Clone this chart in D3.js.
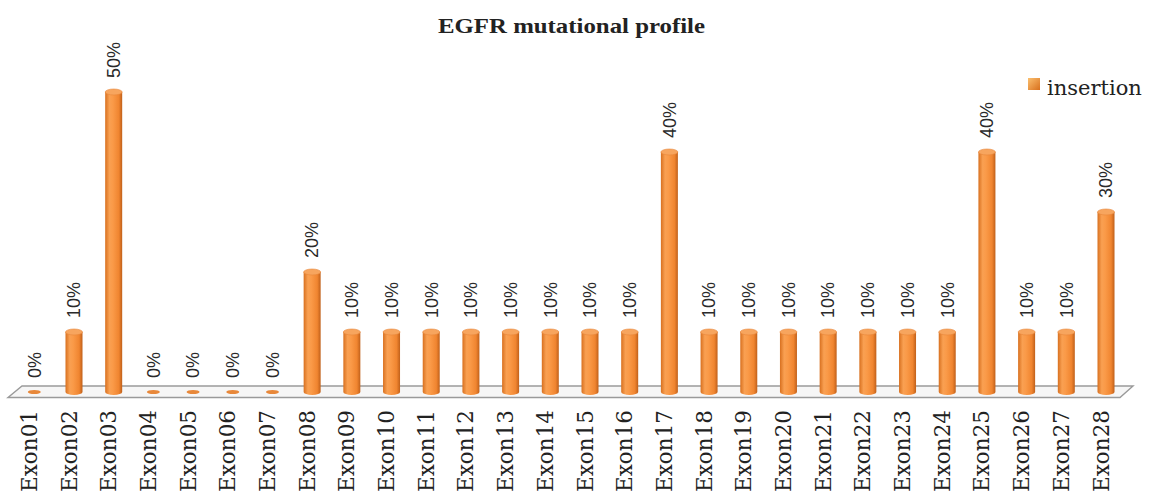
<!DOCTYPE html>
<html><head><meta charset="utf-8">
<script src="https://cdn.jsdelivr.net/npm/d3@7"></script>
<style>body{margin:0;background:#fff;}svg{display:block;}</style>
</head><body>
<svg id="chart" width="1151" height="500"></svg>
<script>
const categories = ["Exon01","Exon02","Exon03","Exon04","Exon05","Exon06","Exon07","Exon08","Exon09","Exon10","Exon11","Exon12","Exon13","Exon14","Exon15","Exon16","Exon17","Exon18","Exon19","Exon20","Exon21","Exon22","Exon23","Exon24","Exon25","Exon26","Exon27","Exon28"];
const insertion = [0,10,50,0,0,0,0,20,10,10,10,10,10,10,10,10,40,10,10,10,10,10,10,10,40,10,10,30];
const seriesName = "insertion";
const title = "EGFR mutational profile";

const svg = d3.select("#chart");
const defs = svg.append("defs");
const g1 = defs.append("linearGradient").attr("id","cyl").attr("x1","0").attr("x2","1").attr("y1","0").attr("y2","0");
[["0%","#d8701f"],["25%","#f9a052"],["45%","#fa9a48"],["80%","#f08530"],["100%","#c0601a"]].forEach(s=>g1.append("stop").attr("offset",s[0]).attr("stop-color",s[1]));
const g2 = defs.append("linearGradient").attr("id","leg").attr("x1","0").attr("x2","1").attr("y1","0").attr("y2","1");
[["0%","#fbc070"],["100%","#d86f1c"]].forEach(s=>g2.append("stop").attr("offset",s[0]).attr("stop-color",s[1]));

const x = d3.scalePoint().domain(categories).range([34.3, 1106]);
const y = d3.scaleLinear().domain([0,50]).range([392, 92]);
const bw = 17, ry = 3;

// floor
svg.append("path")
  .attr("d", "M8,397.5 L1120,397.5 L1133,386 L22,386 Z")
  .attr("fill", "#f6f6f6").attr("stroke", "#9a9a9a").attr("stroke-width", 1.4);

// title
svg.append("text").attr("x", 571.5).attr("y", 33).attr("text-anchor","middle")
  .attr("font-family","Liberation Serif, serif").attr("font-weight","bold").attr("font-size",22)
  .attr("textLength",267).attr("lengthAdjust","spacingAndGlyphs")
  .attr("fill","#222").text(title);

const bars = svg.append("g").selectAll("g").data(categories).join("g");
bars.each(function(c,i){
  const g = d3.select(this);
  const cx = x(c), v = insertion[i], top = y(v), bot = y(0);
  if (v > 0) {
    g.append("path")
      .attr("d", `M${cx-bw/2},${top} L${cx-bw/2},${bot} A${bw/2},${ry} 0 0 0 ${cx+bw/2},${bot} L${cx+bw/2},${top} Z`)
      .attr("fill","url(#cyl)");
    g.append("ellipse").attr("cx",cx).attr("cy",top).attr("rx",bw/2).attr("ry",ry)
      .attr("fill","#f7a55e").attr("stroke","#e8863a").attr("stroke-width",0.6);
  } else {
    g.append("ellipse").attr("cx",cx).attr("cy",bot).attr("rx",bw/2-2).attr("ry",2)
      .attr("fill","#e8883a");
  }
  g.append("text")
    .attr("transform", `translate(${cx},${top-14}) rotate(-90)`)
    .attr("dy","0.35em")
    .attr("font-family","Liberation Sans, Arial, sans-serif").attr("font-size",18).attr("fill","#2a2a2a")
    .text(v + "%");
  g.append("text")
    .attr("transform", `translate(${cx-5},410) rotate(-90)`)
    .attr("dy","0.35em").attr("text-anchor","end")
    .attr("font-family","DejaVu Serif, serif").attr("font-size",21.5).attr("fill","#222")
    .text(c);
});

// legend
svg.append("rect").attr("x",1028).attr("y",78).attr("width",12).attr("height",12).attr("fill","url(#leg)");
svg.append("text").attr("x",1047).attr("y",95)
  .attr("font-family","DejaVu Serif, serif").attr("font-size",21).attr("fill","#222").text(seriesName);
</script>
</body></html>
